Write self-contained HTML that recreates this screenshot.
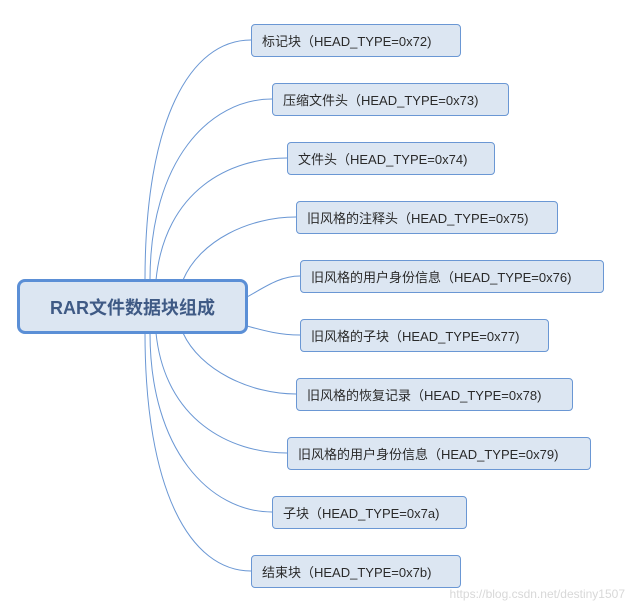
<!DOCTYPE html>
<html><head><meta charset="utf-8"><style>
body{margin:0;width:633px;height:607px;background:#fff;position:relative;overflow:hidden;font-family:"Liberation Sans","Noto Sans CJK SC",sans-serif}
.b{position:absolute;box-sizing:border-box;background:#dce6f2;border:1.5px solid #6a97d4;border-radius:4px;font-size:13px;color:#2a2a2a;display:flex;align-items:center;padding-left:10px;white-space:nowrap}
.r{position:absolute;left:17px;top:279px;width:231px;height:55px;box-sizing:border-box;background:#dce6f2;border:3.5px solid #5b8fd6;border-radius:8px;display:flex;align-items:center;justify-content:center;font-weight:bold;font-size:18px;color:#3f5a85}
svg{position:absolute;left:0;top:0}
.w{position:absolute;right:8px;bottom:6px;font-size:12px;color:#d8d8d8}
</style></head><body>
<svg width="633" height="607"><g fill="none" stroke="#6a97d4" stroke-width="1">
<path d="M145 280 C145 120 190 40 251 40"/>
<path d="M150 280 C150 160 210 99 272 99"/>
<path d="M156 280 C165 190 230 158 287 158"/>
<path d="M183 280 C200 240 250 217 296 217"/>
<path d="M247 297 C265 287 280 276 300 276"/>
<path d="M247 326 C265 331 280 335 300 335"/>
<path d="M183 333 C200 370 250 394 296 394"/>
<path d="M156 333 C165 420 230 453 287 453"/>
<path d="M150 333 C150 450 210 512 272 512"/>
<path d="M145 333 C145 490 190 571 251 571"/>
</g></svg>
<div class="r">RAR文件数据块组成</div>
<div class="b" style="left:251px;top:24px;width:210px;height:33px">标记块（HEAD_TYPE=0x72)</div>
<div class="b" style="left:272px;top:83px;width:237px;height:33px">压缩文件头（HEAD_TYPE=0x73)</div>
<div class="b" style="left:287px;top:142px;width:208px;height:33px">文件头（HEAD_TYPE=0x74)</div>
<div class="b" style="left:296px;top:201px;width:262px;height:33px">旧风格的注释头（HEAD_TYPE=0x75)</div>
<div class="b" style="left:300px;top:260px;width:304px;height:33px">旧风格的用户身份信息（HEAD_TYPE=0x76)</div>
<div class="b" style="left:300px;top:319px;width:249px;height:33px">旧风格的子块（HEAD_TYPE=0x77)</div>
<div class="b" style="left:296px;top:378px;width:277px;height:33px">旧风格的恢复记录（HEAD_TYPE=0x78)</div>
<div class="b" style="left:287px;top:437px;width:304px;height:33px">旧风格的用户身份信息（HEAD_TYPE=0x79)</div>
<div class="b" style="left:272px;top:496px;width:195px;height:33px">子块（HEAD_TYPE=0x7a)</div>
<div class="b" style="left:251px;top:555px;width:210px;height:33px">结束块（HEAD_TYPE=0x7b)</div>
<div class="w">https://blog.csdn.net/destiny1507</div>
</body></html>
